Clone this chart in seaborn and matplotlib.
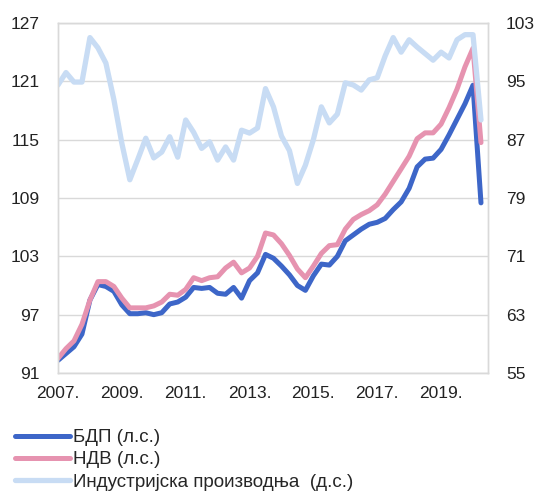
import pandas as pd
import seaborn as sns
import matplotlib.pyplot as plt

# квартални подаци 2007Q1 - 2020Q2
gdp = [92.3, 93.0, 93.7, 95.0, 98.5, 100.1, 99.9, 99.4, 98.0, 97.1,
       97.1, 97.2, 97.0, 97.2, 98.1, 98.3, 98.8, 99.8, 99.7, 99.8,
       99.2, 99.1, 99.8, 98.7, 100.5, 101.3, 103.2, 102.8, 102.0, 101.1,
       100.0, 99.5, 101.0, 102.2, 102.1, 103.0, 104.6, 105.2, 105.8, 106.3,
       106.5, 106.9, 107.8, 108.6, 110.0, 112.2, 113.0, 113.1, 114.0, 115.5,
       117.1, 118.7, 120.6, 108.5]
gva = [92.5, 93.5, 94.3, 96.0, 98.5, 100.4, 100.4, 99.9, 98.7, 97.7,
       97.7, 97.7, 97.9, 98.3, 99.1, 99.0, 99.6, 100.8, 100.5, 100.8,
       100.9, 101.8, 102.4, 101.3, 101.8, 103.0, 105.4, 105.2, 104.3, 103.1,
       101.7, 100.8, 102.0, 103.3, 104.1, 104.2, 105.8, 106.8, 107.3, 107.7,
       108.3, 109.4, 110.7, 112.0, 113.3, 115.1, 115.7, 115.7, 116.6, 118.3,
       120.2, 122.5, 124.4, 114.7]
ind = [94.5, 96.2, 94.9, 94.9, 101.0, 99.6, 97.5, 92.5, 86.5, 81.5,
       84.3, 87.2, 84.5, 85.3, 87.4, 84.6, 89.7, 88.0, 85.8, 86.7,
       84.2, 86.0, 84.2, 88.3, 87.9, 88.6, 94.0, 91.5, 87.5, 85.5,
       81.0, 83.5, 87.0, 91.5, 89.3, 90.5, 94.8, 94.5, 93.8, 95.2,
       95.5, 98.5, 101.0, 99.0, 100.7, 99.7, 98.8, 97.9, 99.0, 98.2,
       100.7, 101.4, 101.4, 89.7]

labels = ['БДП (л.с.)', 'НДВ (л.с.)', 'Индустријска производња  (д.с.)']
colors = ['#3D66C8', '#E693B0', '#C8DCF4']

q = pd.period_range('2007Q1', '2020Q2', freq='Q')
df = pd.DataFrame({'t': q.year + (q.quarter - 1) / 4,
                   'gdp': gdp, 'gva': gva, 'ind': ind})

sns.set_style('white')
plt.rcParams['font.family'] = ['Liberation Sans', 'DejaVu Sans']
plt.rcParams['font.size'] = 12.5

fig = plt.figure(figsize=(5.36, 4.96), dpi=100)
ax = fig.add_axes([58 / 536, 1 - 373 / 496, 430 / 536, 350 / 496])
ax2 = ax.twinx()

sns.lineplot(data=df, x='t', y='gdp', ax=ax, color=colors[0], lw=3.6, label=labels[0], legend=False)
sns.lineplot(data=df, x='t', y='gva', ax=ax, color=colors[1], lw=3.6, label=labels[1], legend=False)
sns.lineplot(data=df, x='t', y='ind', ax=ax2, color=colors[2], lw=3.8, label=labels[2], legend=False)

ax.set_xlim(2007, 2020.47)
ax.set_ylim(91, 127)
ax2.set_ylim(55, 103)
ax.set_yticks(range(91, 128, 6))
ax2.set_yticks(range(55, 104, 8))
years = list(range(2007, 2021))
ax.set_xticks(years)
ax.set_xticklabels([f'{y}.' if y % 2 == 1 else '' for y in years])

ax.grid(axis='y', color='#D9D9D9', lw=1)
ax.set_xlabel('')
ax.set_ylabel('')
ax2.set_ylabel('')
for a in (ax, ax2):
    for s in a.spines.values():
        s.set_color('#D9D9D9')
        s.set_linewidth(1)
ax.tick_params(axis='y', length=0, pad=13, colors='#222222')
ax2.tick_params(axis='y', length=0, pad=13, colors='#222222')
ax.tick_params(axis='x', length=4, width=1, pad=5, colors='#222222')
ax.tick_params(axis='x', color='#D9D9D9')

h1, l1 = ax.get_legend_handles_labels()
h2, l2 = ax2.get_legend_handles_labels()
fig.legend(h1 + h2, l1 + l2, loc='upper left', bbox_to_anchor=(15 / 536, 1 - 429 / 496),
           frameon=False, handlelength=2.95, handletextpad=0.16, labelspacing=0.28,
           borderaxespad=0, borderpad=0, fontsize=13.5)

fig.savefig('out.png', dpi=100)
